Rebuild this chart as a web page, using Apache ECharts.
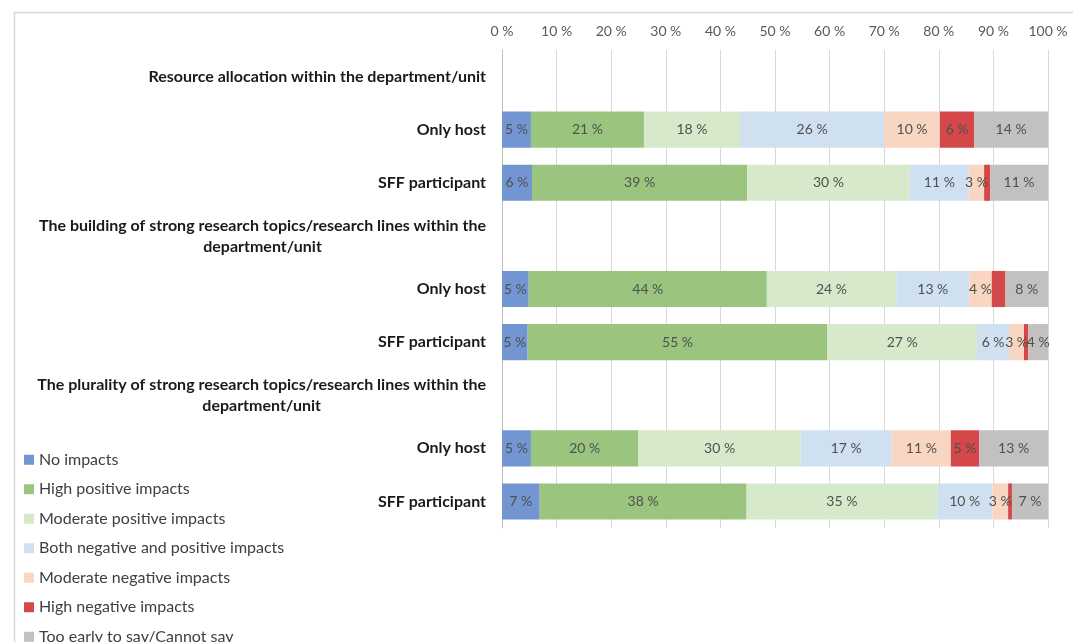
<!DOCTYPE html>
<html>
<head>
<meta charset="utf-8">
<script src="https://cdn.jsdelivr.net/npm/echarts@6/dist/echarts.min.js"></script>
<style>
html,body{margin:0;padding:0;background:#fff;}
#chart{width:1073px;height:642px;}
</style>
</head>
<body>
<div id="chart"></div>
<script>
// Categories (top to bottom); header rows have no bars
const categories = [
  "Resource allocation within the department/unit",
  "Only host",
  "SFF participant",
  "The building of strong research topics/research lines within the\ndepartment/unit",
  "Only host ",
  "SFF participant ",
  "The plurality of strong research topics/research lines within the\ndepartment/unit",
  "Only host  ",
  "SFF participant  "
];
const tickLabels = ["0 %","10 %","20 %","30 %","40 %","50 %","60 %","70 %","80 %","90 %","100 %"];

const seriesNames = [
  "No impacts",
  "High positive impacts",
  "Moderate positive impacts",
  "Both negative and positive impacts",
  "Moderate negative impacts",
  "High negative impacts",
  "Too early to say/Cannot say"
];
const colors = ["#7396D2","#9BC57E","#D7E9CB","#CFE0F1","#F9D6C1","#D5484A","#C2C1C0"];

// values per category row (null for header rows)
const noImpacts        = [null, 5.3, 5.5, null, 4.9, 4.7, null, 5.3, 6.9];
const highPositive     = [null, 20.7, 39.4, null, 43.6, 54.9, null, 19.7, 37.9];
const moderatePositive = [null, 17.6, 29.8, null, 23.7, 27.4, null, 29.7, 34.9];
const bothNegPos       = [null, 26.4, 10.8, null, 13.4, 5.9, null, 16.7, 10.1];
const moderateNegative = [null, 10.2, 2.8, null, 4.1, 2.7, null, 10.8, 2.9];
const highNegative     = [null, 6.3, 1.1, null, 2.5, 0.8, null, 5.2, 0.7];
const tooEarly         = [null, 13.5, 10.6, null, 7.8, 3.6, null, 12.6, 6.6];

const allData = [noImpacts, highPositive, moderatePositive, bothNegPos, moderateNegative, highNegative, tooEarly];

const FONT = "Lato, 'Open Sans', sans-serif";

const chart = echarts.init(document.getElementById('chart'), null, {renderer:'canvas'});

const series = seriesNames.map((name, i) => ({
  name: name,
  type: 'bar',
  stack: 'total',
  barWidth: '68%',
  itemStyle: { color: colors[i] },
  label: {
    show: true,
    position: 'inside',
    fontFamily: FONT,
    fontSize: 14,
    color: '#505050',
    formatter: p => (p.value == null || p.value < 2.6) ? '' : Math.round(p.value) + ' %'
  },
  emphasis: { disabled: true },
  data: allData[i]
}));

chart.setOption({
  animation: false,
  textStyle: { fontFamily: FONT },
  graphic: [{
    type: 'rect',
    left: 12, top: 10,
    shape: { width: 1200, height: 800 },
    style: { fill: 'none', stroke: '#D9D9D9', lineWidth: 1.5 },
    silent: true
  }],
  legend: {
    orient: 'vertical',
    left: 19,
    top: 446,
    height: 400,
    itemWidth: 10,
    itemHeight: 10,
    itemGap: 12,
    icon: 'rect',
    textStyle: { fontFamily: FONT, fontSize: 16, color: '#404040', lineHeight: 17.5 },
    data: seriesNames
  },
  grid: { left: 502, right: 25, top: 50, bottom: 114 },
  xAxis: {
    type: 'value',
    position: 'top',
    min: 0, max: 100, interval: 10,
    axisLine: { show: false },
    axisTick: { show: false },
    splitLine: { show: true, lineStyle: { color: '#D9D9D9', width: 1 } },
    axisLabel: {
      fontFamily: FONT, fontSize: 14, color: '#595959', margin: 12,
      formatter: v => tickLabels[Math.round(v / 10)]
    }
  },
  yAxis: {
    type: 'category',
    inverse: true,
    data: categories,
    axisLine: { show: true, lineStyle: { color: '#BFBFBF', width: 1 } },
    axisTick: { show: false },
    axisLabel: {
      margin: 16,
      fontFamily: FONT,
      fontSize: 16,
      fontWeight: 'bold',
      color: '#1a1a1a',
      lineHeight: 21,
      formatter: (v) => {
        if (v.indexOf('\n') >= 0) {
          return v.split('\n').map(s => '{c|' + s + '}').join('\n');
        }
        return v.trim();
      },
      rich: {
        c: { align: 'center', fontFamily: FONT, fontSize: 16, fontWeight: 'bold', color: '#1a1a1a', lineHeight: 21 }
      }
    }
  },
  series: series
});
</script>
</body>
</html>
